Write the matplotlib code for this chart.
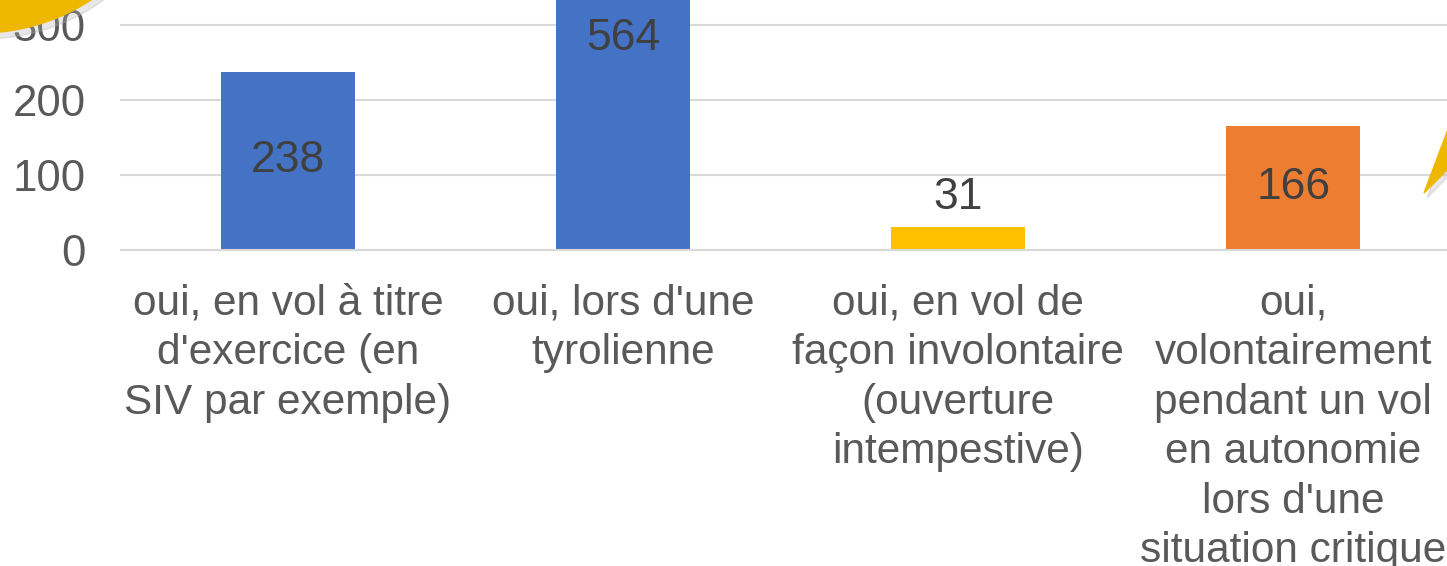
import matplotlib.pyplot as plt
from matplotlib.patches import Circle, Polygon

plt.rcParams['font.family'] = ['Liberation Sans', 'DejaVu Sans']

categories = [
    "oui, en vol à titre\nd'exercice (en\nSIV par exemple)",
    "oui, lors d'une\ntyrolienne",
    "oui, en vol de\nfaçon involontaire\n(ouverture\nintempestive)",
    "oui,\nvolontairement\npendant un vol\nen autonomie\nlors d'une\nsituation critique",
]
values = [238, 564, 31, 166]
colors = ['#4472C4', '#4472C4', '#FFC000', '#ED7D31']
yticks = [0, 100, 200, 300, 400, 500, 600]

W, H = 1447, 566
fig = plt.figure(figsize=(W / 100, H / 100), dpi=100)

# axes extend past the top/right of the picture (chart is cropped)
ax_left, ax_right = 120.5, 1461.0
ax_bottom = 250.0  # pixel row of value 0, from the top
px_per_unit = 0.75
ymax = 600
ax = fig.add_axes([ax_left / W, (H - ax_bottom) / H,
                   (ax_right - ax_left) / W, ymax * px_per_unit / H])

x = range(len(values))
bars = ax.bar(x, values, width=0.4, color=colors, zorder=2)
ax.set_xlim(-0.5, len(values) - 0.5)
ax.set_ylim(0, ymax)
ax.set_yticks(yticks)
ax.set_xticks(list(x))
ax.set_xticklabels(categories, linespacing=1.31)

ax.yaxis.grid(True, color='#d9d9d9', linewidth=1.5, zorder=0)
ax.set_axisbelow(True)
for s in ['top', 'right', 'left']:
    ax.spines[s].set_visible(False)
ax.spines['bottom'].set_color('#d9d9d9')
ax.spines['bottom'].set_linewidth(1.5)

ax.tick_params(axis='y', length=0, pad=25, labelsize=31.5, labelcolor='#595959')
ax.tick_params(axis='x', length=0, pad=24, labelsize=30.5, labelcolor='#595959')

for i, v in enumerate(values):
    if v > 100:
        ax.text(i, v / 2, str(v), ha='center', va='center', fontsize=32, color='#404040')
    else:
        ax.text(i, v + 12, str(v), ha='center', va='bottom', fontsize=32, color='#404040')

# yellow callout shapes cut off at the edges
tr = fig.dpi_scale_trans
fig.patches.append(Circle((-0.16, 7.30), 2.03, transform=tr, color='#b0b0b0', alpha=0.3, zorder=5))
fig.patches.append(Circle((-0.20, 7.36), 2.03, transform=tr, color='#EEB700', zorder=6))
fig.patches.append(Polygon([(14.27, 3.68), (14.73, 4.90), (14.73, 4.14)], transform=tr,
                           color='#b0b0b0', alpha=0.3, zorder=5))
fig.patches.append(Polygon([(14.24, 3.73), (14.70, 4.95), (14.70, 4.19)], transform=tr,
                           color='#EEB700', zorder=6))

fig.savefig('out.png', dpi=100)
plt.close(fig)
